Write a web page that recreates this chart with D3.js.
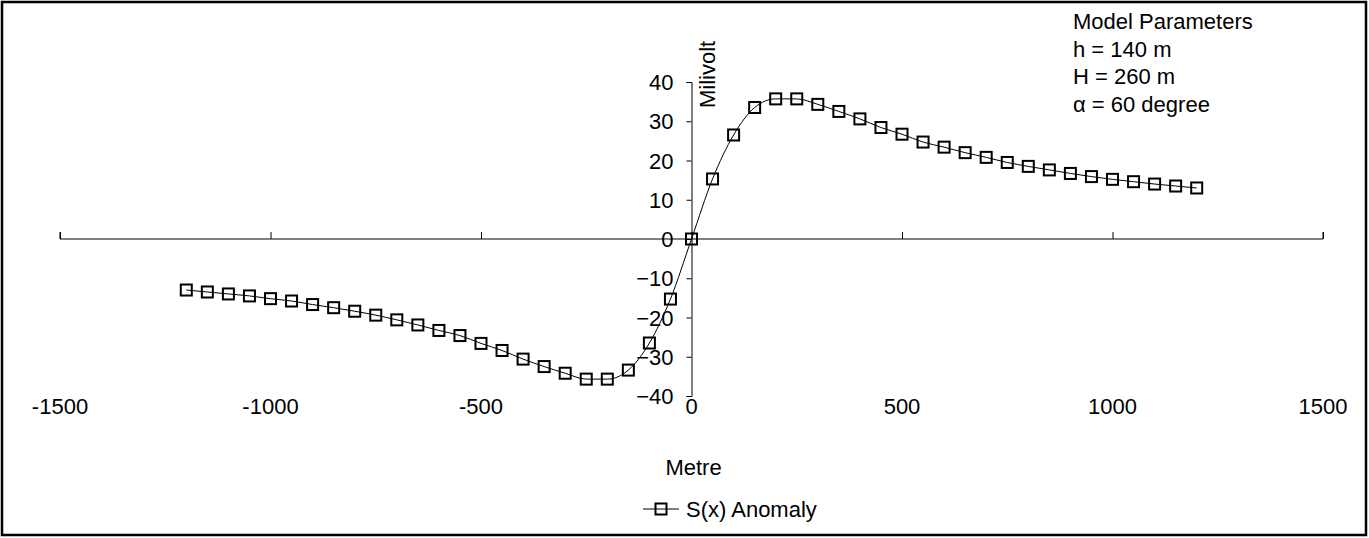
<!DOCTYPE html>
<html>
<head>
<meta charset="utf-8">
<script src="https://cdn.jsdelivr.net/npm/d3@7"></script>
<style>
  html, body { margin: 0; padding: 0; background: #fff; }
  svg { display: block; font-family: "Liberation Sans", Arial, sans-serif; }
</style>
</head>
<body>
<svg id="chart" width="1369" height="538"></svg>
<script>
// Distance along the profile (m)
const distance = [
  -1200, -1150, -1100, -1050, -1000, -950, -900, -850, -800, -750, -700, -650, -600,
  -550, -500, -450, -400, -350, -300, -250, -200, -150, -100, -50,
  0,
  50, 100, 150, 200, 250, 300, 350, 400, 450, 500, 550, 600, 650, 700,
  750, 800, 850, 900, 950, 1000, 1050, 1100, 1150, 1200
];
// Self-potential anomaly S(x) (mV)
const anomaly = [
  -13.0, -13.5, -14.0, -14.5, -15.2, -15.8, -16.7, -17.5, -18.4, -19.4, -20.6, -21.9, -23.3,
  -24.6, -26.6, -28.4, -30.6, -32.5, -34.2, -35.7, -35.7, -33.4, -26.5, -15.3,
  0,
  15.3, 26.5, 33.5, 35.7, 35.7, 34.3, 32.5, 30.6, 28.4, 26.7, 24.7, 23.4, 22.0, 20.8,
  19.5, 18.5, 17.6, 16.7, 15.9, 15.2, 14.6, 14.0, 13.5, 13.0
];
const xTicks = [-1500, -1000, -500, 0, 500, 1000, 1500];
const yTicks = [-40, -30, -20, -10, 0, 10, 20, 30, 40];
const params = ["Model Parameters", "h = 140 m", "H = 260 m", "\u03B1 = 60 degree"];
const seriesName = "S(x) Anomaly";
const xTitle = "Metre";
const yTitle = "Milivolt";

const svg = d3.select("#chart");
const W = 1369, H = 538;
const FONT = 22;

// outer frame
svg.append("rect")
  .attr("x", 2).attr("y", 2).attr("width", W - 5).attr("height", H - 5)
  .attr("fill", "none").attr("stroke", "#000").attr("stroke-width", 2.5);

const x = d3.scaleLinear().domain([-1500, 1500]).range([60, 1323]);
const y = d3.scaleLinear().domain([-40, 40]).range([396, 82]);

// horizontal axis through y = 0, ticks pointing up
const xAxis = svg.append("g")
  .attr("transform", `translate(0,${y(0)})`)
  .call(d3.axisTop(x).tickValues(xTicks).tickSize(7).tickFormat(""));
xAxis.select(".domain").attr("d", `M${x(-1500)},-7V0H${x(1500)}V-7`);
xAxis.selectAll("line, path").attr("stroke", "#000").attr("stroke-width", 1);

// vertical axis through x = 0, ticks pointing left
const yAxis = svg.append("g")
  .attr("transform", `translate(${x(0)},0)`)
  .call(d3.axisLeft(y).tickValues(yTicks).tickSize(5).tickSizeOuter(5).tickFormat(d3.format("d")));
yAxis.selectAll("line, path").attr("stroke", "#000").attr("stroke-width", 1);
yAxis.selectAll("text")
  .attr("x", -18).attr("dy", "0.35em")
  .attr("font-size", FONT).attr("fill", "#000")
  .attr("font-family", "Liberation Sans, Arial, sans-serif");

// x tick labels below the plot
svg.append("g").selectAll("text")
  .data(xTicks).join("text")
  .attr("x", d => x(d)).attr("y", 414)
  .attr("text-anchor", "middle").attr("font-size", FONT)
  .text(d => d);

// axis titles
svg.append("text")
  .attr("x", x(0) + 2).attr("y", 475)
  .attr("text-anchor", "middle").attr("font-size", FONT)
  .text(xTitle);
svg.append("text")
  .attr("transform", `translate(${x(0) + 23},108) rotate(-90)`)
  .attr("text-anchor", "start").attr("font-size", FONT)
  .text(yTitle);

// model parameter block
svg.append("g").selectAll("text")
  .data(params).join("text")
  .attr("x", 1073).attr("y", (d, i) => 29 + i * 27.5)
  .attr("font-size", FONT)
  .text(d => d);

// series line + markers
const pts = distance.map((d, i) => [d, anomaly[i]]);
svg.append("path")
  .datum(pts)
  .attr("fill", "none").attr("stroke", "#000").attr("stroke-width", 1)
  .attr("d", d3.line().x(d => x(d[0])).y(d => y(d[1])).curve(d3.curveMonotoneX));

const M = 11;
svg.append("g").selectAll("rect")
  .data(pts).join("rect")
  .attr("x", d => x(d[0]) - M / 2).attr("y", d => y(d[1]) - M / 2)
  .attr("width", M).attr("height", M)
  .attr("fill", "none").attr("stroke", "#000").attr("stroke-width", 2);

// legend
const lg = svg.append("g").attr("transform", "translate(643,509)");
lg.append("line").attr("x1", 0).attr("x2", 36).attr("y1", 0).attr("y2", 0)
  .attr("stroke", "#000").attr("stroke-width", 1);
lg.append("rect").attr("x", 18 - M / 2).attr("y", -M / 2).attr("width", M).attr("height", M)
  .attr("fill", "none").attr("stroke", "#000").attr("stroke-width", 2);
lg.append("text").attr("x", 43).attr("y", 0).attr("dy", "0.35em")
  .attr("font-size", FONT).text(seriesName);
</script>
</body>
</html>
